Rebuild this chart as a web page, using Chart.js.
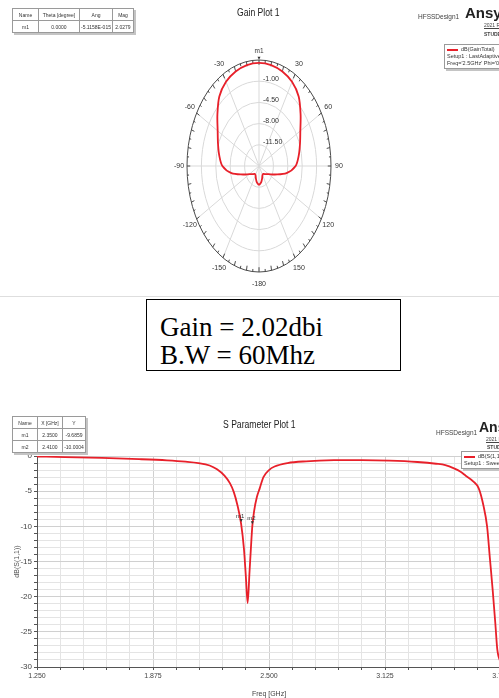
<!DOCTYPE html>
<html><head><meta charset="utf-8">
<script src="https://cdn.jsdelivr.net/npm/chart.js@4.4.0/dist/chart.umd.min.js"></script>
<style>
html,body{margin:0;padding:0;width:499px;height:698px;overflow:hidden;background:#fff;font-family:"Liberation Sans",Arial,sans-serif;color:#222;}
.abs{position:absolute;white-space:nowrap;}
table.mk{position:absolute;border-collapse:collapse;font-size:5px;color:#333;background:#fff;box-shadow:2px 2px 0 #c4c4c4;white-space:nowrap;}
table.mk td{border:1px solid #9a9a9a;text-align:center;padding:0 1px;height:11px;white-space:nowrap;}
.leg{position:absolute;border:1px solid #9a9a9a;background:#fff;box-shadow:2px 2px 0 #c4c4c4;font-size:5.5px;color:#333;padding:1px 2px;line-height:7px;white-space:nowrap;}
.leg .ln{display:inline-block;width:11px;height:2px;background:#e8202a;vertical-align:middle;margin-right:3px;}
.ansys{font-weight:bold;color:#222;}
.small{font-size:6.5px;color:#444;}
.ttl{font-size:10px;color:#222;transform:scaleX(0.86);transform-origin:left top;}
.tbox{position:absolute;left:146px;top:299px;width:253px;height:70px;border:1.6px solid #000;}
.tline{position:absolute;left:13px;font-family:"Liberation Serif","Times New Roman",serif;font-size:27px;color:#000;line-height:27px;}
</style></head><body>
<canvas id="polar" width="499" height="295" style="position:absolute;left:0;top:0"></canvas>
<canvas id="sparam" width="540" height="252" style="position:absolute;left:0;top:446px"></canvas>

<!-- top decorations -->
<table class="mk" style="left:12px;top:8px">
<tr><td style="width:23px">Name</td><td style="width:38px">Theta [degree]</td><td style="width:30px">Ang</td><td style="width:18px">Mag</td></tr>
<tr><td>m1</td><td>0.0000</td><td>-5.1158E-015</td><td>2.0279</td></tr>
</table>
<div class="abs ttl" style="left:237px;top:7px;">Gain Plot 1</div>
<div class="abs small" style="left:418px;top:13px;">HFSSDesign1</div>
<div class="abs ansys" style="left:465px;top:4px;font-size:15px;">Ansys</div>
<div class="abs small" style="left:484px;top:22px;font-size:5px;text-decoration:underline;">2021 R1</div>
<div class="abs small" style="left:484px;top:31px;font-size:5px;font-weight:bold;">STUDENT</div>
<div class="leg" style="left:444px;top:44px;width:70px;">
<div><span class="ln"></span>dB(GainTotal)</div>
<div>Setup1 : LastAdaptive</div>
<div>Freq='2.5GHz' Phi='0deg'</div>
</div>
<div class="abs" style="left:0;top:296px;width:499px;height:1px;background:#dedede;"></div>

<div class="tbox">
<div class="tline" style="top:14px;">Gain = 2.02dbi</div>
<div class="tline" style="top:42px;">B.W = 60Mhz</div>
</div>

<!-- bottom decorations -->
<table class="mk" style="left:12px;top:416px">
<tr><td style="width:22px">Name</td><td style="width:22px">X [GHz]</td><td style="width:20px">Y</td></tr>
<tr><td>m1</td><td>2.3500</td><td>-9.6859</td></tr>
<tr><td>m2</td><td>2.4100</td><td>-10.0004</td></tr>
</table>
<div class="abs ttl" style="left:223px;top:419px;">S Parameter Plot 1</div>
<div class="abs small" style="left:436px;top:429px;">HFSSDesign1</div>
<div class="abs ansys" style="left:479px;top:419px;font-size:14px;">Ansys</div>
<div class="abs small" style="left:486px;top:436px;font-size:5px;text-decoration:underline;">2021 R1</div>
<div class="abs small" style="left:487px;top:444px;font-size:5px;font-weight:bold;">STUDENT</div>
<div class="leg" style="left:461px;top:451px;width:60px;">
<div><span class="ln"></span>dB(S(1,1))</div>
<div>Setup1 : Sweep</div>
</div>

<script>
// ---------- Gain plot data ----------
const thetaDeg = [-180,-170,-160,-150,-140,-130,-120,-110,-100,-90,-80,-70,-60,-50,-40,-30,-20,-10,0,10,20,30,40,50,60,70,80,90,100,110,120,130,140,150,160,170,180];
const gainDb   = [-11.85,-12.2,-12.8,-13.3,-13.3,-12.9,-12.3,-10.9,-8.2,-6.1,-5.2,-4.4,-3.4,-1.8,0.0,1.05,1.6,1.92,2.02,1.92,1.6,1.05,0.0,-1.8,-3.4,-4.4,-5.2,-6.1,-8.2,-10.9,-12.3,-12.9,-13.3,-13.3,-12.8,-12.2,-11.85];
const radialTicks = [-11.5,-8,-4.5,-1];
const radialMin = -15, radialMax = 2.5;
const angleLabels = [30,60,90,120,150,180,-150,-120,-90,-60,-30];
const angleLabelText = ['30','60','90','120','150','-180','-150','-120','-90','-60','-30'];
const polarMarkerName = 'm1', polarMarkerTheta = 0, polarMarkerGain = 2.0279;

// ---------- S parameter data ----------
const freqGHz = [1.25,1.4,1.6,1.8,1.95,2.05,2.12,2.18,2.22,2.26,2.29,2.31,2.33,2.35,2.365,2.375,2.385,2.395,2.405,2.41,2.42,2.435,2.45,2.47,2.5,2.53,2.6,2.7,2.85,3.0,3.15,3.3,3.4,3.45,3.5,3.53,3.56,3.6,3.63,3.655,3.675,3.69,3.705,3.72,3.73,3.75];
const s11Db   = [-0.08,-0.15,-0.28,-0.45,-0.62,-0.8,-1.0,-1.35,-1.9,-2.8,-3.9,-5.1,-7.0,-9.69,-13.2,-17.0,-20.9,-16.5,-12.0,-10.0,-7.8,-5.8,-4.6,-3.0,-2.0,-1.5,-1.0,-0.75,-0.6,-0.58,-0.65,-0.85,-1.1,-1.3,-1.8,-2.2,-2.8,-3.6,-4.6,-7.0,-10.0,-14.5,-19.0,-24.0,-27.5,-29.5];
const markerNames = ['m1','m2'];
const markerFreq  = [2.35, 2.41];
const markerVal   = [-9.6859, -10.0004];
const xMajor = [1.25,1.875,2.5,3.125,3.75];

const RED = 'rgb(232,32,42)';
const span = radialMax - radialMin;
function toXY(th, g){ const r = Math.max(0, g - radialMin); const a = th*Math.PI/180; return {x: r*Math.sin(a), y: r*Math.cos(a)}; }

const polarGrid = {
  id:'polarGrid',
  beforeDatasetsDraw(chart){
    const ctx = chart.ctx, xs = chart.scales.x, ys = chart.scales.y;
    const cx = xs.getPixelForValue(0), cy = ys.getPixelForValue(0);
    const RX = xs.getPixelForValue(span) - cx, RY = cy - ys.getPixelForValue(span);
    ctx.save();
    ctx.strokeStyle = '#d9d9d9'; ctx.lineWidth = 1;
    radialTicks.forEach(v=>{
      const f = (v - radialMin)/span;
      ctx.beginPath(); ctx.ellipse(cx,cy,RX*f,RY*f,0,0,Math.PI*2); ctx.stroke();
    });
    for(let a=0;a<360;a+=30){
      const t=a*Math.PI/180;
      ctx.beginPath(); ctx.moveTo(cx,cy); ctx.lineTo(cx+RX*Math.sin(t), cy-RY*Math.cos(t)); ctx.stroke();
    }
    ctx.strokeStyle = '#4a4a4a';
    ctx.beginPath(); ctx.ellipse(cx,cy,RX,RY,0,0,Math.PI*2); ctx.stroke();
    for(let a=0;a<360;a+=5){
      const t=a*Math.PI/180, L = (a%10===0)?0.045:0.025;
      ctx.beginPath();
      ctx.moveTo(cx+RX*Math.sin(t), cy-RY*Math.cos(t));
      ctx.lineTo(cx+RX*(1-L)*Math.sin(t), cy-RY*(1-L)*Math.cos(t));
      ctx.stroke();
    }
    ctx.fillStyle = '#333'; ctx.font = '7px "Liberation Sans", Arial';
    ctx.textAlign = 'center'; ctx.textBaseline = 'middle';
    angleLabels.forEach((a,i)=>{
      const t=a*Math.PI/180;
      ctx.fillText(angleLabelText[i], cx+RX*1.11*Math.sin(t), cy-RY*1.11*Math.cos(t));
    });
    ctx.textAlign = 'left'; ctx.textBaseline = 'bottom';
    radialTicks.forEach(v=>{
      const f=(v - radialMin)/span;
      ctx.fillText(v.toFixed(2), cx+4, cy-RY*f+1);
    });
    ctx.restore();
  },
  afterDatasetsDraw(chart){
    const ctx = chart.ctx, xs = chart.scales.x, ys = chart.scales.y;
    const p = toXY(polarMarkerTheta, polarMarkerGain);
    const px = xs.getPixelForValue(p.x), py = ys.getPixelForValue(p.y);
    ctx.save();
    ctx.fillStyle='#333';
    ctx.beginPath(); ctx.moveTo(px-1.5,py-6); ctx.lineTo(px+1.5,py-6); ctx.lineTo(px,py-3); ctx.closePath(); ctx.fill();
    ctx.font='6.5px "Liberation Sans", Arial'; ctx.textAlign='center'; ctx.textBaseline='bottom';
    ctx.fillText(polarMarkerName, px, py-8);
    ctx.restore();
  }
};

new Chart(document.getElementById('polar'), {
  type:'scatter',
  data:{datasets:[{
    data: thetaDeg.map((t,i)=>toXY(t,gainDb[i])),
    showLine:true, borderColor:RED, borderWidth:1.8, pointRadius:0, tension:0.3, fill:false, clip:false
  }]},
  options:{
    responsive:false, animation:false,
    layout:{padding:{left:187,right:168,top:60,bottom:23}},
    scales:{
      x:{type:'linear',min:-span,max:span,display:false},
      y:{type:'linear',min:-span,max:span,display:false}
    },
    plugins:{legend:{display:false},tooltip:{enabled:false}}
  },
  plugins:[polarGrid]
});

const isMajorX = v => xMajor.some(m=>Math.abs(m-v)<1e-6);
const sMarkers = {
  id:'sMarkers',
  afterDatasetsDraw(chart){
    const ctx = chart.ctx, xs = chart.scales.x, ys = chart.scales.y;
    ctx.save();
    ctx.fillStyle='#333'; ctx.font='6px "Liberation Sans", Arial'; ctx.textAlign='center'; ctx.textBaseline='bottom';
    markerNames.forEach((n,i)=>{
      const px = xs.getPixelForValue(markerFreq[i]), py = ys.getPixelForValue(markerVal[i]);
      ctx.beginPath(); ctx.moveTo(px-1.5,py-5); ctx.lineTo(px+1.5,py-5); ctx.lineTo(px,py-2); ctx.closePath(); ctx.fill();
      ctx.fillText(n, px-1, py-5);
    });
    ctx.restore();
  }
};

new Chart(document.getElementById('sparam'), {
  type:'line',
  data:{datasets:[{
    data: freqGHz.map((f,i)=>({x:f,y:s11Db[i]})),
    borderColor:RED, borderWidth:1.8, pointRadius:0, cubicInterpolationMode:'monotone', fill:false
  }]},
  options:{
    responsive:false, animation:false,
    layout:{padding:{left:0,right:39,top:10,bottom:0}},
    scales:{
      x:{type:'linear',min:1.25,max:3.75,
        ticks:{stepSize:0.125,autoSkip:false,maxRotation:0,color:'#444',font:{size:7,family:'"Liberation Sans", Arial'},padding:2,
          callback:v=>isMajorX(v)?v.toFixed(3):''},
        grid:{color:c=>isMajorX(c.tick?c.tick.value:0)?'#d0d0d0':'#e4e4e4',tickLength:3,tickColor:'#555'},
        border:{color:'#555'},
        title:{display:true,text:'Freq [GHz]',color:'#444',font:{size:7,family:'"Liberation Sans", Arial'},padding:{top:1,bottom:0}},
        afterFit:s=>{s.height=31;}
      },
      y:{type:'linear',min:-30,max:0,
        ticks:{stepSize:1,autoSkip:false,color:'#444',font:{size:8,family:'"Liberation Sans", Arial'},padding:2,
          callback:v=>(Math.round(v)%5===0)?String(Math.round(v)):''},
        grid:{color:c=>(c.tick && Math.round(c.tick.value)%5===0)?'#d0d0d0':'#e4e4e4',tickLength:3,tickColor:'#555'},
        border:{color:'#555'},
        title:{display:true,text:'dB(S(1,1))',color:'#555',font:{size:7,family:'"Liberation Sans", Arial'},padding:{top:13,bottom:0}},
        afterFit:s=>{s.width=37;}
      }
    },
    plugins:{legend:{display:false},tooltip:{enabled:false}}
  },
  plugins:[sMarkers]
});
</script>
</body></html>
